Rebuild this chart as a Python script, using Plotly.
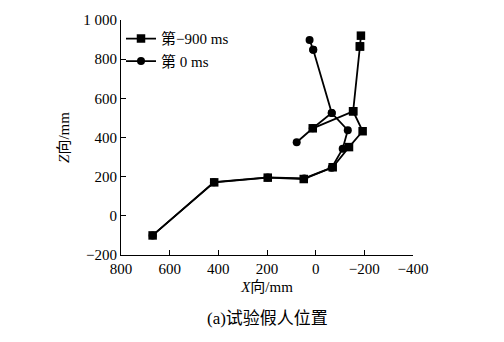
import plotly.graph_objects as go

# -900 ms series (square markers), polyline order (shoulder point repeated for branch)
x_900 = [12, -154, -182, -186, -182, -154, -193, -137, -70, 49, 197, 417, 670]
z_900 = [447, 534, 865, 920, 865, 534, 432, 351, 248, 188, 195, 171, -100]

# 0 ms series (circle markers)
x_0 = [78, 12, -66, 10, 25, 10, -66, -132, -111, -66, 47, 197, 418, 670]
z_0 = [376, 447, 525, 848, 898, 848, 525, 437, 343, 246, 191, 196, 172, -100]

x_ticks = [800, 600, 400, 200, 0, -200, -400]
x_ticktext = ["800", "600", "400", "200", "0", "\u2212200", "\u2212400"]
y_ticks = [-200, 0, 200, 400, 600, 800, 1000]
y_ticktext = ["\u2212200", "0", "200", "400", "600", "800", "1 000"]

FONT = "Liberation Serif, Noto Sans CJK SC, serif"

fig = go.Figure()
fig.add_trace(go.Scatter(
    x=x_0, y=z_0, mode="lines+markers", name="第 0 ms",
    line=dict(color="black", width=1.8),
    marker=dict(symbol="circle", size=8, color="black"),
    legendrank=2,
))
fig.add_trace(go.Scatter(
    x=x_900, y=z_900, mode="lines+markers", name="第\u2212900 ms",
    line=dict(color="black", width=1.8),
    marker=dict(symbol="square", size=8.5, color="black"),
    legendrank=1,
))

fig.update_layout(
    width=504, height=342,
    margin=dict(l=121, r=91, t=17, b=87),
    paper_bgcolor="white", plot_bgcolor="white",
    font=dict(family=FONT, size=13, color="black"),
    showlegend=True,
    legend=dict(x=0.0, y=0.99, xanchor="left", yanchor="top",
                bgcolor="rgba(0,0,0,0)", font=dict(size=15, family=FONT),
                itemwidth=30, tracegroupgap=0),
    xaxis=dict(range=[800, -400], tickvals=x_ticks, ticktext=x_ticktext,
               showgrid=False, zeroline=False, showline=True, linecolor="black",
               linewidth=1, ticks="inside", ticklen=5, tickcolor="black",
               tickfont=dict(size=15, family=FONT),
               title=dict(text="<i>X</i>向/mm", font=dict(size=15, family=FONT), standoff=5)),
    yaxis=dict(range=[-200, 1000], tickvals=y_ticks, ticktext=y_ticktext,
               showgrid=False, zeroline=False, showline=True, linecolor="black",
               linewidth=1, ticks="inside", ticklen=5, tickcolor="black",
               tickfont=dict(size=15, family=FONT),
               title=dict(text="<i>Z</i>向/mm", font=dict(size=15, family=FONT), standoff=10)),
)

fig.add_annotation(text="(a)试验假人位置", xref="paper", yref="paper",
                   x=0.5, y=-0.27, xanchor="center", yanchor="middle",
                   showarrow=False, font=dict(size=17, family=FONT))

fig.write_html("out.html")
